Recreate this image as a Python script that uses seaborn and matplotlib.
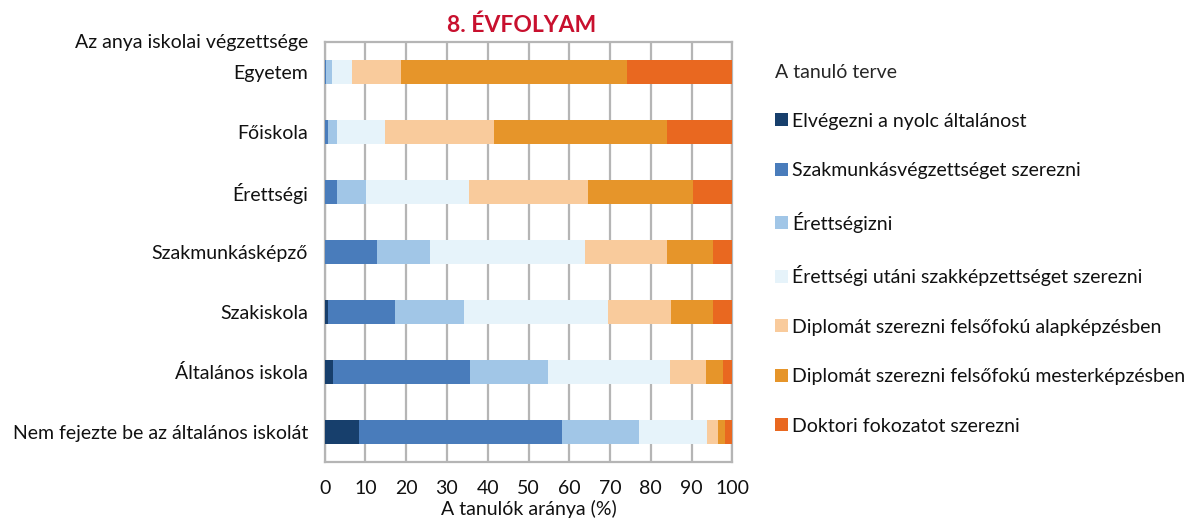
import matplotlib
matplotlib.use("Agg")
import matplotlib.pyplot as plt
from matplotlib.patches import Patch
import numpy as np
import pandas as pd
import seaborn as sns

# Mother's highest education level (rows, top to bottom)
categories = [
    "Egyetem",
    "Főiskola",
    "Érettségi",
    "Szakmunkásképző",
    "Szakiskola",
    "Általános iskola",
    "Nem fejezte be az általános iskolát",
]

# Student's plan, share of students (%) per row
plans = [
    "Elvégezni a nyolc általánost",
    "Szakmunkásvégzettséget szerezni",
    "Érettségizni",
    "Érettségi utáni szakképzettséget szerezni",
    "Diplomát szerezni felsőfokú alapképzésben",
    "Diplomát szerezni felsőfokú mesterképzésben",
    "Doktori fokozatot szerezni",
]

elvegezni_nyolc = [0.0, 0.0, 0.0, 0.0, 0.8, 2.0, 8.4]
szakmunkas = [0.3, 0.8, 3.0, 12.8, 16.4, 33.6, 49.8]
erettsegizni = [1.5, 2.2, 7.1, 13.0, 16.9, 19.1, 18.9]
erettsegi_utani = [4.9, 11.8, 25.3, 38.0, 35.3, 30.1, 16.7]
alapkepzes = [12.0, 26.7, 29.2, 20.1, 15.5, 8.6, 2.7]
mesterkepzes = [55.4, 42.4, 25.8, 11.3, 10.3, 4.2, 1.7]
doktori = [25.9, 16.1, 9.6, 4.8, 4.8, 2.4, 1.8]

series = [elvegezni_nyolc, szakmunkas, erettsegizni, erettsegi_utani,
          alapkepzes, mesterkepzes, doktori]

colors = ["#173F6C", "#497CBB", "#A1C6E7", "#E6F3FA",
          "#F9CB9C", "#E6952A", "#E96820"]

sns.set_theme(style="white")
plt.rcParams["font.family"] = ["Lato", "DejaVu Sans"]

FS = 14

fig = plt.figure(figsize=(11.89, 5.2), dpi=100)
ax = fig.add_axes([0.273, 0.1115, 0.343, 0.808])

# Stacked bars: draw cumulative totals from the outermost segment inwards
df = pd.DataFrame({p: v for p, v in zip(plans, series)}, index=categories)
cum = df.cumsum(axis=1)
for i in range(len(plans) - 1, -1, -1):
    d = pd.DataFrame({"cat": categories, "val": cum[plans[i]].values})
    sns.barplot(data=d, y="cat", x="val", orient="h", color=colors[i],
                width=0.41, saturation=1, linewidth=0, edgecolor="none",
                ax=ax, zorder=3)

ax.set_xlim(0, 100)
ax.set_ylim(len(categories) - 0.5, -0.5)
ax.set_xticks(np.arange(0, 101, 10))
ax.tick_params(axis="x", length=0, labelsize=FS, pad=13, colors="#111111")
ax.xaxis.grid(True, color="#B5B5B5", linewidth=1.6, zorder=0)
ax.set_axisbelow(True)

# Category labels, with small tick marks between the rows
ax.set_yticks(range(len(categories)))
ax.set_yticklabels(categories, fontsize=FS, color="#111111")
ax.tick_params(axis="y", length=0, pad=12)
ax.set_yticks(np.arange(-0.5, len(categories), 1.0), minor=True)
ax.tick_params(axis="y", which="minor", length=5, width=1.6, color="#B5B5B5")

for s in ax.spines.values():
    s.set_color("#B5B5B5")
    s.set_linewidth(1.6)

ax.set_xlabel("A tanulók aránya (%)", fontsize=FS, labelpad=2, color="#111111")
ax.set_ylabel("")

fig.text(0.2595, 0.918, "Az anya iskolai végzettsége", ha="right", va="center",
         fontsize=FS, color="#111111")
fig.text(0.4386, 0.952, "8. ÉVFOLYAM", ha="center", va="center",
         fontsize=16.5, fontweight="bold", color="#C8102E")

handles = [Patch(facecolor=c, edgecolor="none") for c in colors]
leg = fig.legend(handles, plans, loc="upper left", bbox_to_anchor=(0.637, 0.911),
                 frameon=False, fontsize=FS, title="A tanuló terve",
                 title_fontsize=FS, handlelength=0.65, handleheight=0.65,
                 handletextpad=0.25, labelspacing=1.67, alignment="left")
leg._legend_box.sep = 23
for t in leg.get_texts():
    t.set_color("#111111")

fig.savefig("out.png", dpi=100)
